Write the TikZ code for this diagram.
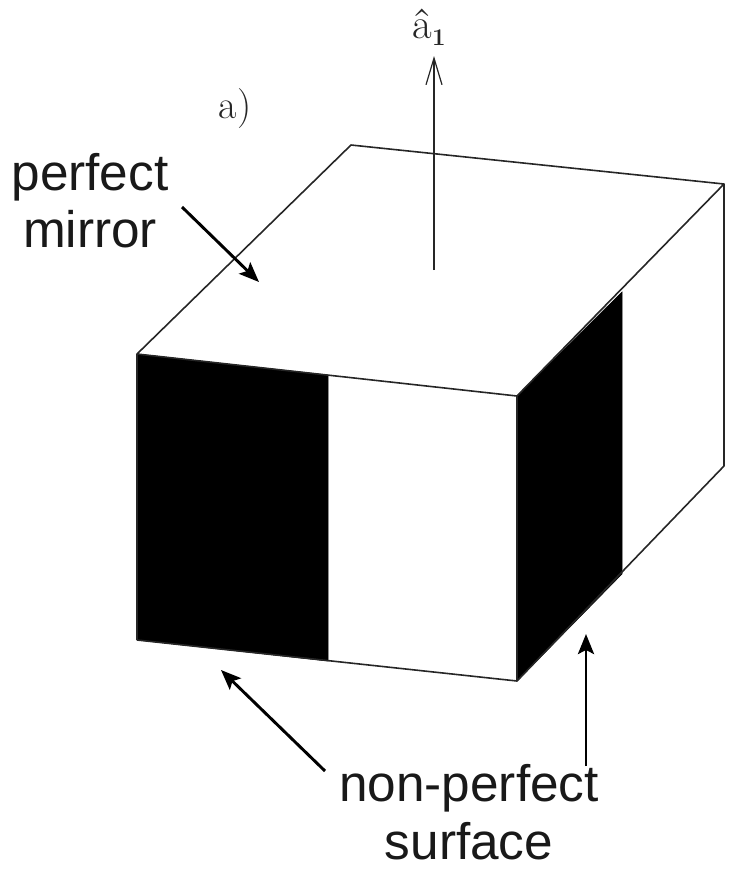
\documentclass[tikz,border=0pt]{standalone}
\usepackage{fontspec}
\setsansfont{Liberation Sans}
\usetikzlibrary{arrows.meta}
\tikzset{
  px/.style={x=0.75pt,y=-0.75pt},
  edge/.style={draw=black!85,line width=1.2pt,line join=round},
  blk/.style={fill=black,draw=black},
  lbl/.style={font=\sffamily\fontsize{38.5}{43}\selectfont,align=center,text=black!90,inner sep=0pt},
  ptr/.style={line width=2.2pt,-{Stealth[length=15pt,width=12pt,inset=3pt]}},
  thin arrow/.style={draw=black!85,line width=0.8pt,-{Straight Barb[length=20pt,width=12pt,line width=0.9pt]}}
}
\begin{document}
\begin{tikzpicture}[px]
\useasboundingbox (0,0) rectangle (729,869);
\coordinate (A) at (137,354);
\coordinate (B) at (517,396);
\coordinate (C) at (724,184);
\coordinate (D) at (351,145);
\coordinate (E) at (137,640);
\coordinate (F) at (517,681);
\coordinate (G) at (724,466);
\coordinate (H1) at (328,375);
\coordinate (H2) at (328,661);
\coordinate (J1) at (622,292);
\coordinate (J2) at (622,574);
\fill[blk] (A) -- (H1) -- (H2) -- (E) -- cycle;
\fill[blk] (B) -- (J1) -- (J2) -- (F) -- cycle;
\draw[edge] (A) -- (B) -- (C) -- (D) -- cycle;
\draw[edge] (E) -- (F) -- (G) -- (C);
\draw[edge] (B) -- (F);
\draw[edge] (A) -- (E);
\node[lbl] (pm) at (90,201) {perfect\\mirror};
\node[lbl] (nps) at (469,812) {non-perfect\\surface};
\node[font=\fontsize{30}{32}\selectfont,inner sep=0pt,text=black!85] (a) at (235,109) {a)};
\node[font=\fontsize{32}{34}\selectfont,inner sep=0pt,text=black!85] (a1) at (429,27) {â\raisebox{-5pt}{\fontsize{18}{20}\selectfont\bfseries 1}};
\coordinate (s0) at (434,270);
\coordinate (s1) at (434,56);
\draw[thin arrow] (s0) -- (s1);
\coordinate (p1) at (182,207);
\coordinate (p2) at (259,282);
\draw[ptr] (p1) -- (p2);
\coordinate (p3) at (325,771);
\coordinate (p4) at (221,670);
\draw[ptr] (p3) -- (p4);
\coordinate (p5) at (586,766);
\coordinate (p6) at (586,634);
\draw[ptr] (p5) -- (p6);
\end{tikzpicture}
\end{document}
